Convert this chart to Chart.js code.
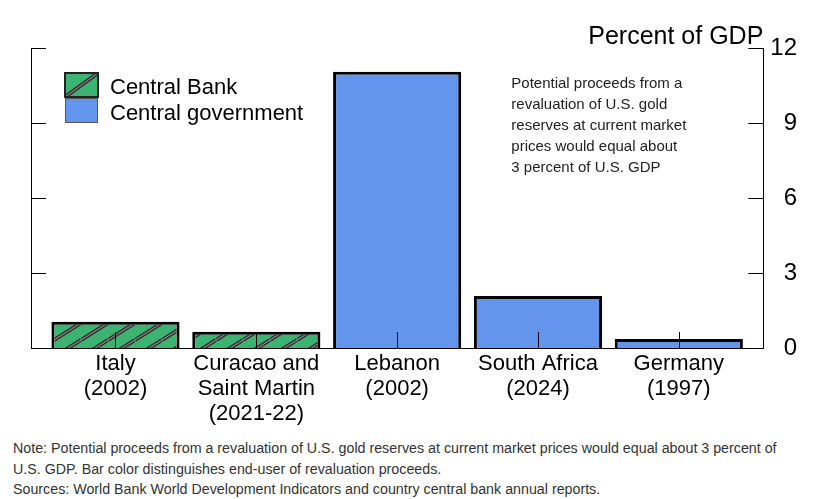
<!DOCTYPE html>
<html>
<head>
<meta charset="utf-8">
<script src="https://cdn.jsdelivr.net/npm/chart.js@4.4.1/dist/chart.umd.min.js"></script>
<style>
  body { margin: 0; background: #fff; }
  #wrap { width: 814px; height: 429px; position: relative; }
  .note { font-family: "Liberation Sans", Arial, sans-serif; font-size: 14.25px; line-height: 20.5px; color: #333; margin: 9px 0 0 13px; }
</style>
</head>
<body>
<div id="wrap"><canvas id="myChart"></canvas></div>
<div class="note">Note: Potential proceeds from a revaluation of U.S. gold reserves at current market prices would equal about 3 percent of<br>U.S. GDP. Bar color distinguishes end-user of revaluation proceeds.<br>Sources: World Bank World Development Indicators and country central bank annual reports.</div>
<script>
const categories = [['Italy', '(2002)'], ['Curacao and', 'Saint Martin', '(2021-22)'], ['Lebanon', '(2002)'], ['South Africa', '(2024)'], ['Germany', '(1997)']];
const centralBank = [1.05, 0.65, null, null, null];
const centralGovernment = [null, null, 11.05, 2.08, 0.36];
const yTicks = [0, 3, 6, 9, 12];
const seriesNames = ['Central Bank', 'Central government'];
const annotation = ['Potential proceeds from a', 'revaluation of U.S. gold', 'reserves at current market', 'prices would equal about', '3 percent of U.S. GDP'];

const GREEN = '#3cb371';
const BLUE = '#6495ed';
const FONT = '"Liberation Sans", Arial, sans-serif';

// hatched fill for central bank bars
const hatch = (() => {
  const c = document.createElement('canvas');
  c.width = 27; c.height = 17;
  const g = c.getContext('2d');
  g.fillStyle = GREEN;
  g.fillRect(0, 0, 27, 17);
  for (const [w, col] of [[4, '#333'], [1, '#999']]) {
    g.strokeStyle = col;
    g.lineWidth = w;
    for (let n = 0; n <= 2; n++) {
      g.beginPath();
      g.moveTo(0, n * 17);
      g.lineTo(27, (n - 1) * 17);
      g.stroke();
    }
  }
  return g.createPattern(c, 'repeat');
})();

const toPoints = arr => arr.map((v, i) => ({ x: i, y: v }));

const extras = {
  id: 'extras',
  afterDatasetsDraw(chart) {
    const { ctx, chartArea: a, scales } = chart;
    const line = (x1, y1, x2, y2) => { ctx.beginPath(); ctx.moveTo(x1, y1); ctx.lineTo(x2, y2); ctx.stroke(); };
    ctx.save();
    ctx.strokeStyle = '#000';
    ctx.lineWidth = 1;
    scales.y.ticks.forEach(t => {
      const py = Math.round(scales.y.getPixelForValue(t.value)) + 0.5;
      line(a.left, py, a.left + 15, py);
      line(a.right - 15, py, a.right, py);
    });
    scales.x.ticks.forEach(t => {
      const px = Math.round(scales.x.getPixelForValue(t.value)) + 0.5;
      line(px, a.bottom, px, a.bottom - 16);
    });

    // title
    ctx.fillStyle = '#000';
    ctx.font = '25px ' + FONT;
    ctx.textAlign = 'right';
    ctx.textBaseline = 'alphabetic';
    ctx.fillText('Percent of GDP', a.right, 44);

    // legend
    const lx = a.left + 34, ly = a.top + 25;
    ctx.fillStyle = GREEN;
    ctx.fillRect(lx, ly, 33, 24);
    ctx.save();
    ctx.beginPath(); ctx.rect(lx, ly, 33, 24); ctx.clip();
    ctx.strokeStyle = '#333'; ctx.lineWidth = 4; line(lx, ly + 24, lx + 33, ly);
    ctx.strokeStyle = '#999'; ctx.lineWidth = 1; line(lx, ly + 24, lx + 33, ly);
    ctx.restore();
    ctx.strokeStyle = '#222'; ctx.lineWidth = 2;
    ctx.strokeRect(lx, ly, 33, 24);
    ctx.fillStyle = BLUE;
    ctx.fillRect(lx, ly + 25, 33, 25);
    ctx.strokeStyle = '#555'; ctx.lineWidth = 1;
    ctx.strokeRect(lx + 0.5, ly + 25.5, 32, 24);
    ctx.fillStyle = '#000';
    ctx.font = '22px ' + FONT;
    ctx.textAlign = 'left';
    ctx.fillText(seriesNames[0], lx + 45, ly + 21);
    ctx.fillText(seriesNames[1], lx + 45, ly + 47);

    // annotation
    ctx.fillStyle = '#222';
    ctx.font = '15px ' + FONT;
    annotation.forEach((s, i) => ctx.fillText(s, a.right - 252, 88 + i * 21));
    ctx.restore();
  }
};

const ctx = document.getElementById('myChart');
new Chart(ctx, {
  type: 'bar',
  data: {
    datasets: [
      {
        label: seriesNames[0],
        data: toPoints(centralBank),
        backgroundColor: hatch,
        borderColor: '#000',
        borderWidth: 3,
      },
      {
        label: seriesNames[1],
        data: toPoints(centralGovernment),
        backgroundColor: BLUE,
        borderColor: '#000',
        borderWidth: 3,
      },
    ],
  },
  options: {
    responsive: true,
    maintainAspectRatio: false,
    animation: false,
    devicePixelRatio: 1,
    grouped: false,
    categoryPercentage: 1,
    barPercentage: 0.91,
    layout: { padding: { left: 31, right: 17, top: 48, bottom: 0 } },
    plugins: { legend: { display: false }, tooltip: { enabled: false } },
    scales: {
      x: {
        type: 'linear',
        position: 'bottom',
        offset: false,
        min: -0.6,
        max: 4.6,
        afterBuildTicks: s => { s.ticks = categories.map((c, i) => ({ value: i })); },
        grid: { display: false, offset: false, drawTicks: false },
        border: { display: true, color: '#000', width: 1 },
        ticks: {
          autoSkip: false,
          maxRotation: 0,
          padding: 3,
          color: '#000',
          font: { family: FONT, size: 22, lineHeight: 25 / 22 },
          callback: v => categories[v],
        },
      },
      y: {
        position: 'right',
        min: 0,
        max: 12,
        afterBuildTicks: s => { s.ticks = yTicks.map(v => ({ value: v })); },
        grid: { display: false, drawTicks: false },
        border: { display: true, color: '#000', width: 1 },
        ticks: {
          padding: 3.5,
          crossAlign: 'far',
          color: '#000',
          font: { family: FONT, size: 24 },
        },
      },
      y2: {
        position: 'left',
        min: 0,
        max: 12,
        grid: { display: false, drawTicks: false },
        border: { display: true, color: '#000', width: 1 },
        ticks: { display: false },
      },
    },
  },
  plugins: [extras],
});
</script>
</body>
</html>
